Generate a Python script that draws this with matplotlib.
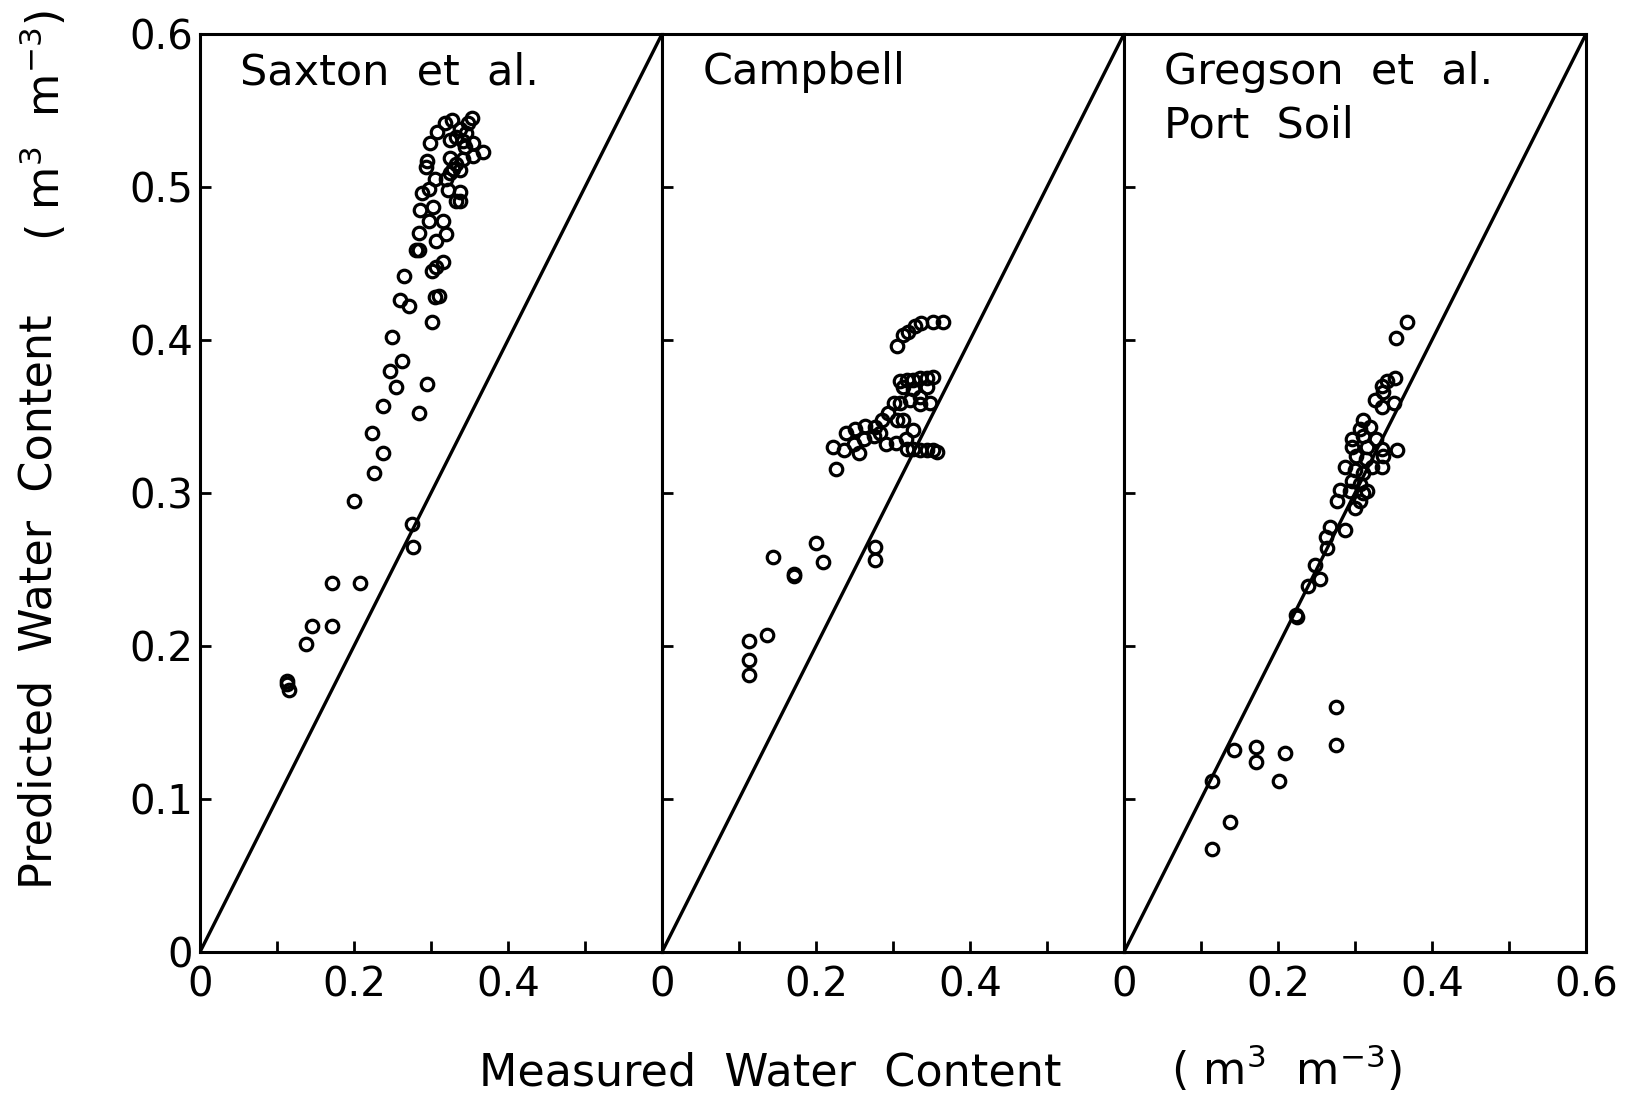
import numpy as np
import matplotlib
matplotlib.use("Agg")
import matplotlib.pyplot as plt

# measured vs predicted water content (m3 m-3)
saxton_measured = [0.113, 0.115, 0.113, 0.138, 0.145, 0.171, 0.171, 0.208,
                   0.200, 0.226, 0.238, 0.223, 0.275, 0.277,
                   0.238, 0.285, 0.255, 0.247, 0.262, 0.295,
                   0.249, 0.301, 0.260, 0.271, 0.265,
                   0.310, 0.305, 0.307, 0.316, 0.301,
                   0.280, 0.284, 0.284, 0.307, 0.320,
                   0.298, 0.316, 0.286, 0.303, 0.288,
                   0.297, 0.305, 0.322, 0.338, 0.333, 0.338,
                   0.320, 0.325, 0.295, 0.294,
                   0.325, 0.333, 0.338, 0.342, 0.329,
                   0.344, 0.355, 0.368, 0.355,
                   0.299, 0.308, 0.318, 0.327, 0.338, 0.333, 0.346,
                   0.353, 0.348, 0.325, 0.342]
saxton_predicted = [0.177, 0.171, 0.175, 0.201, 0.213, 0.213, 0.241, 0.241,
                    0.295, 0.313, 0.326, 0.339, 0.280, 0.265,
                    0.357, 0.352, 0.369, 0.380, 0.386, 0.371,
                    0.402, 0.412, 0.426, 0.422, 0.442,
                    0.429, 0.428, 0.448, 0.451, 0.445,
                    0.459, 0.459, 0.470, 0.465, 0.469,
                    0.478, 0.478, 0.485, 0.487, 0.496,
                    0.499, 0.505, 0.498, 0.497, 0.491, 0.491,
                    0.505, 0.509, 0.517, 0.513,
                    0.519, 0.515, 0.511, 0.518, 0.512,
                    0.526, 0.529, 0.523, 0.520,
                    0.529, 0.536, 0.542, 0.544, 0.538, 0.533, 0.535,
                    0.545, 0.542, 0.531, 0.530]

campbell_measured = [0.113, 0.113, 0.113, 0.137,
                     0.144, 0.171, 0.171, 0.200, 0.209,
                     0.276, 0.277,
                     0.226, 0.222, 0.237, 0.239, 0.251, 0.264, 0.256,
                     0.249, 0.262, 0.275, 0.283,
                     0.277, 0.286, 0.294, 0.301, 0.313, 0.305,
                     0.291, 0.304, 0.317, 0.326,
                     0.318, 0.326, 0.335, 0.344, 0.352, 0.357,
                     0.309, 0.322, 0.335, 0.348, 0.335,
                     0.309, 0.318, 0.326, 0.335, 0.344, 0.352, 0.313, 0.326, 0.344,
                     0.305, 0.313, 0.320, 0.329, 0.337, 0.352, 0.365]
campbell_predicted = [0.203, 0.191, 0.181, 0.207,
                      0.258, 0.247, 0.246, 0.267, 0.255,
                      0.265, 0.256,
                      0.316, 0.330, 0.328, 0.339, 0.342, 0.344, 0.326,
                      0.332, 0.335, 0.337, 0.339,
                      0.343, 0.348, 0.352, 0.359, 0.348, 0.348,
                      0.332, 0.333, 0.335, 0.341,
                      0.329, 0.329, 0.328, 0.328, 0.328, 0.327,
                      0.359, 0.361, 0.363, 0.359, 0.358,
                      0.373, 0.374, 0.374, 0.375, 0.375, 0.376, 0.369, 0.368, 0.369,
                      0.396, 0.403, 0.405, 0.409, 0.411, 0.412, 0.412]

gregson_measured = [0.114, 0.138, 0.114, 0.201, 0.143, 0.171, 0.171, 0.209, 0.275, 0.275, 0.225,
                    0.224, 0.239, 0.254, 0.248, 0.263, 0.268, 0.287, 0.262,
                    0.277, 0.300, 0.306, 0.281, 0.294, 0.311, 0.315,
                    0.296, 0.306, 0.287, 0.300, 0.311,
                    0.301, 0.314, 0.322, 0.335,
                    0.296, 0.310, 0.327, 0.296, 0.315, 0.335, 0.355, 0.337,
                    0.310, 0.306, 0.319,
                    0.326, 0.335, 0.350,
                    0.352, 0.341, 0.335, 0.337,
                    0.353, 0.367]
gregson_predicted = [0.067, 0.085, 0.112, 0.112, 0.132, 0.134, 0.124, 0.130, 0.160, 0.135, 0.219,
                     0.220, 0.239, 0.244, 0.253, 0.264, 0.278, 0.276, 0.271,
                     0.295, 0.290, 0.295, 0.302, 0.301, 0.300, 0.301,
                     0.308, 0.306, 0.317, 0.315, 0.313,
                     0.324, 0.322, 0.317, 0.317,
                     0.335, 0.337, 0.335, 0.330, 0.330, 0.329, 0.328, 0.324,
                     0.348, 0.342, 0.343,
                     0.361, 0.356, 0.359,
                     0.375, 0.373, 0.370, 0.366,
                     0.401, 0.412]

panel_titles = [["Saxton  et  al."], ["Campbell"], ["Gregson  et  al.", "Port  Soil"]]
ticks = [0, 0.1, 0.2, 0.3, 0.4, 0.5, 0.6]
x_labels = ["0", "", "0.2", "", "0.4", "", ""]
x_labels_last = ["0", "", "0.2", "", "0.4", "", "0.6"]
y_labels = ["0", "0.1", "0.2", "0.3", "0.4", "0.5", "0.6"]

plt.rcParams['font.family'] = ['DejaVu Sans']

W, H = 1639, 1099
fig = plt.figure(figsize=(W / 100, H / 100), dpi=100)

datasets = [(saxton_measured, saxton_predicted),
            (campbell_measured, campbell_predicted),
            (gregson_measured, gregson_predicted)]

lefts = [200, 662, 1124]
for i, (mx, py) in enumerate(datasets):
    ax = fig.add_axes([lefts[i] / W, 147 / H, 462 / W, 918 / H])
    ax.plot([0, 0.6], [0, 0.6], color='black', lw=2.4, zorder=1)
    ax.plot(mx, py, 'o', mfc='none', mec='black', ms=9, mew=2.3, zorder=2)
    ax.set_xlim(0, 0.6)
    ax.set_ylim(0, 0.6)

    for s in ax.spines.values():
        s.set_linewidth(2.2)

    ax.set_xticks(ticks)
    ax.set_yticks(ticks)
    ax.tick_params(direction='in', length=8, width=2, labelsize=29, pad=10)
    ax.tick_params(axis='y', pad=5)
    ax.set_xticklabels(x_labels_last if i == 2 else x_labels)
    if i == 0:
        ax.set_yticklabels(y_labels)
    else:
        ax.set_yticklabels([])

    # panel label, one text per line
    for j, line in enumerate(panel_titles[i]):
        ax.text(0.087, 0.9455 - j * 0.0585, line, transform=ax.transAxes,
                fontsize=31, ha='left', va='baseline')

# axis titles
fig.text(479 / W, 14 / H, "Measured  Water  Content", fontsize=32,
         ha='left', va='baseline')
fig.text(1171 / W, 14 / H, r"( m$^3$  m$^{-3}$)", fontsize=32,
         ha='left', va='baseline')
fig.text(18 / W, (H - 889) / H, "Predicted  Water  Content", fontsize=32,
         rotation=90, ha='left', va='bottom')
fig.text(18 / W, 1 - 10 / H, r"( m$^3$  m$^{-3}$)", fontsize=32,
         rotation=90, ha='left', va='top')

fig.savefig("out.png", dpi=100)
